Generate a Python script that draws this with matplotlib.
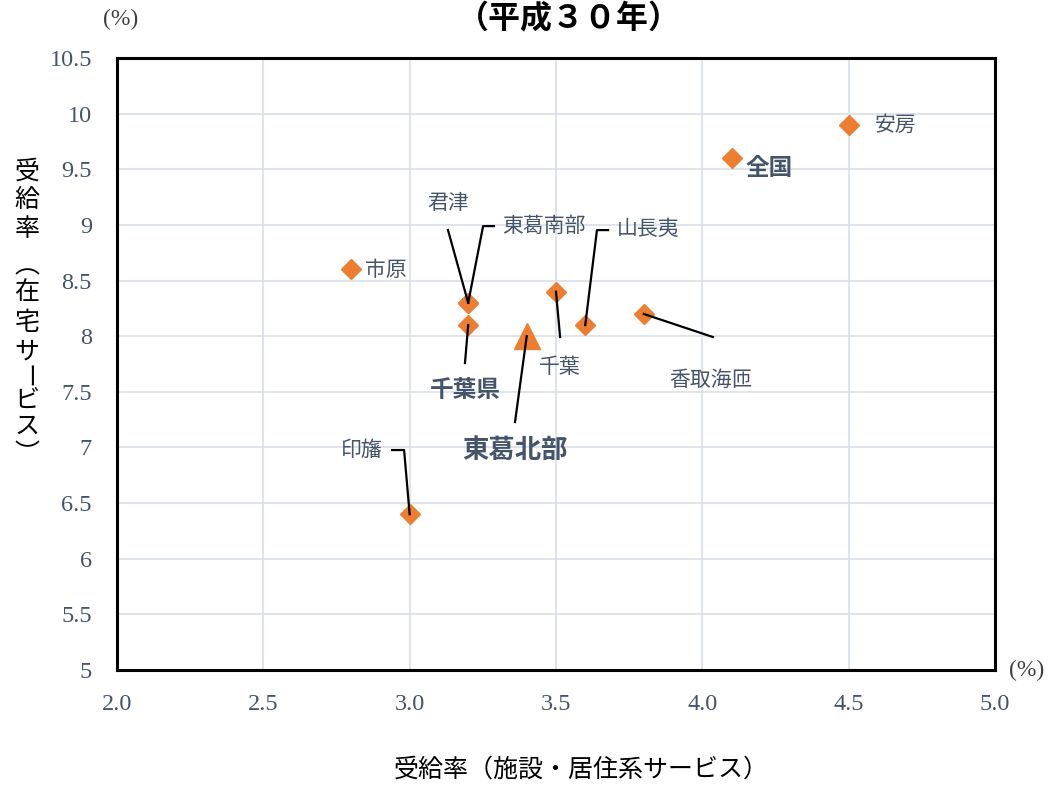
import matplotlib
matplotlib.use("Agg")
import matplotlib.pyplot as plt

plt.rcParams['font.family'] = ['Noto Sans CJK JP', 'DejaVu Sans']

# 受給率データ（平成30年）
areas = ["全国", "千葉県", "千葉", "東葛南部", "東葛北部", "印旛",
         "香取海匝", "山長夷", "安房", "君津", "市原"]
facility_rate = [4.1, 3.2, 3.5, 3.2, 3.4, 3.0, 3.8, 3.6, 4.5, 3.2, 2.8]
home_rate = [9.6, 8.1, 8.4, 8.3, 8.0, 6.4, 8.2, 8.1, 9.9, 8.3, 8.6]

x_ticks = [2.0, 2.5, 3.0, 3.5, 4.0, 4.5, 5.0]
x_ticklabels = ["2.0", "2.5", "3.0", "3.5", "4.0", "4.5", "5.0"]
y_ticks = [5, 5.5, 6, 6.5, 7, 7.5, 8, 8.5, 9, 9.5, 10, 10.5]
y_ticklabels = ["5", "5.5", "6", "6.5", "7", "7.5", "8", "8.5", "9", "9.5", "10", "10.5"]

# ラベル位置: (x, y, ha, 文字サイズ, 太字, 引出線の起点, 折れ点)
label_pos = {
    "全国":   (4.149, 9.511, "left", 17, True, None, None),
    "千葉県": (3.189, 7.516, "center", 17, True, (3.189, 7.759), None),
    "千葉":   (3.514, 7.723, "center", 15, False, (3.514, 7.993), None),
    "東葛南部": (3.315, 8.990, "left", 15, False, (3.288, 8.990), (3.251, 8.990)),
    "東葛北部": (3.360, 6.977, "center", 19, True, (3.360, 7.229), None),
    "印旛":   (2.909, 6.977, "right", 15, False, (2.940, 6.977), (2.981, 6.977)),
    "香取海匝": (4.030, 7.606, "center", 15, False, (4.036, 7.993), None),
    "山長夷": (3.708, 8.963, "left", 15, False, (3.678, 8.954), (3.640, 8.954)),
    "安房":   (4.590, 9.898, "left", 15, False, None, None),
    "君津":   (3.131, 9.197, "center", 15, False, (3.131, 8.954), None),
    "市原":   (2.847, 8.595, "left", 15, False, None, None),
}

orange = "#ED7D31"
slate = "#44546A"

fig = plt.figure(figsize=(10.54, 7.85), dpi=100)
ax = fig.add_axes([0.111, 0.1465, 0.833, 0.7795])

for name, xv, yv in zip(areas, facility_rate, home_rate):
    if name == "東葛北部":
        ax.plot(xv, yv, marker="^", markersize=19, color=orange, linestyle="none", zorder=3)
    else:
        ax.plot(xv, yv, marker="D", markersize=10, color=orange, linestyle="none", zorder=3)

    lx, ly, ha, fs, bold, start, elbow = label_pos[name]
    ax.text(lx, ly, name, ha=ha, va="center", fontsize=fs, color=slate,
            fontweight="bold" if bold else "normal", zorder=5)
    if start is not None:
        path_x = [start[0]]
        path_y = [start[1]]
        if elbow is not None:
            path_x.append(elbow[0])
            path_y.append(elbow[1])
        path_x.append(xv)
        path_y.append(yv)
        ax.plot(path_x, path_y, color="black", linewidth=1.6, zorder=4)

ax.set_xlim(2.0, 5.0)
ax.set_ylim(5, 10.5)
ax.set_xticks(x_ticks)
ax.set_xticklabels(x_ticklabels)
ax.set_yticks(y_ticks)
ax.set_yticklabels(y_ticklabels)
ax.tick_params(length=0, labelsize=17.5, labelcolor=slate)
ax.tick_params(axis="x", pad=17)
ax.tick_params(axis="y", pad=18)
for lab in ax.get_xticklabels() + ax.get_yticklabels():
    lab.set_family("Liberation Serif")

ax.grid(True, color="#D9DEE6", linewidth=1.2)
ax.set_axisbelow(True)
for sp in ax.spines.values():
    sp.set_color("black")
    sp.set_linewidth(2.2)

# 縦書きの軸ラベル（括弧は縦書き用の字形、長音は回転）
ylab = ["受", "給", "率", "︵", "在", "宅", "サ", "ー", "ビ", "ス", "︶"]
ylab_px = [172, 200, 229, 266, 292, 323, 352, 377, 401, 427, 454]
for ch, py in zip(ylab, ylab_px):
    rot = -90 if ch == "ー" else 0
    fig.text(27 / 1054, 1 - py / 785, ch, rotation=rot,
             ha="center", va="center", fontsize=18, color="black",
             rotation_mode="anchor")

fig.text(581 / 1054, 1 - 770 / 785, "受給率（施設・居住系サービス）",
         ha="center", va="center", fontsize=18, color="black")

fig.text(569 / 1054, 1 - 19 / 785, "（平成３０年）", ha="center", va="center",
         fontsize=23, fontweight="bold", color="black")

fig.text(121 / 1054, 1 - 19 / 785, "(%)", ha="center", va="center",
         fontsize=17, color="#404040", family="Liberation Serif")
fig.text(1027 / 1054, 1 - 670 / 785, "(%)", ha="center", va="center",
         fontsize=17, color="#404040", family="Liberation Serif")

fig.savefig("out.png", dpi=100)
